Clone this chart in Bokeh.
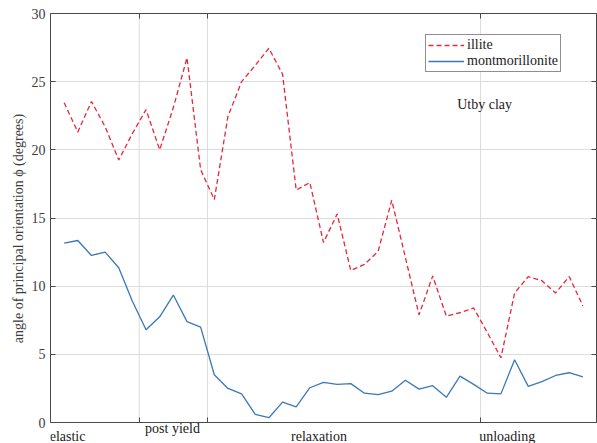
from bokeh.plotting import figure
from bokeh.models import Range1d, FixedTicker, LinearAxis, Label, Legend, LegendItem
from bokeh.core.properties import value
from bokeh.embed import file_html
from bokeh.resources import INLINE

# ---- data ----
step = list(range(1, 40))
illite = [23.45, 21.3, 23.55, 21.7, 19.25, 21.2, 22.95, 20.0, 23.1, 26.75,
          18.55, 16.35, 22.45, 25.0, 26.2, 27.45, 25.55, 17.05, 17.6, 13.2,
          15.3, 11.15, 11.6, 12.55, 16.3, 12.1, 7.9, 10.75, 7.8, 8.05,
          8.4, 6.6, 4.75, 9.5, 10.7, 10.4, 9.5, 10.7, 8.55]
montmorillonite = [13.15, 13.35, 12.25, 12.5, 11.35, 8.9, 6.8, 7.75, 9.35, 7.4,
                   7.0, 3.5, 2.5, 2.1, 0.6, 0.35, 1.5, 1.15, 2.55, 2.95,
                   2.8, 2.85, 2.15, 2.05, 2.3, 3.1, 2.45, 2.7, 1.85, 3.4,
                   2.8, 2.15, 2.1, 4.6, 2.65, 3.0, 3.45, 3.65, 3.35]
phase_boundaries = [6.5, 11.5, 31.5]
y_ticks = [0, 5, 10, 15, 20, 25, 30]
phase_labels = ["elastic", "post yield", "relaxation", "unloading"]
phase_label_x = [1.25, 8.94, 19.67, 33.46]
phase_label_y = [-1.03, -0.44, -1.03, -1.03]

FONT = "Liberation Serif"
AXIS_COL = "#4a4a4a"
TEXT_COL = "#3c3c3c"
Y0, Y1 = 0, 30

p = figure(width=597, height=443, x_range=Range1d(0, 40), y_range=Range1d(-1.54, 30),
           output_backend="svg", toolbar_location=None,
           min_border_left=50, min_border_right=1, min_border_top=13, min_border_bottom=0)
p.background_fill_color = "white"
p.border_fill_color = "white"
p.outline_line_color = None

p.add_layout(LinearAxis(), "right")
p.add_layout(LinearAxis(), "above")

for ax in p.xaxis:
    ax.ticker = FixedTicker(ticks=phase_boundaries)
    ax.major_label_overrides = {t: "" for t in phase_boundaries}
    ax.major_label_text_font_size = "1px"
    ax.major_label_standoff = 0
p.below[0].fixed_location = Y0
for ax in p.yaxis:
    ax.ticker = FixedTicker(ticks=y_ticks)
    ax.bounds = (Y0, Y1)
for ax in list(p.xaxis) + list(p.yaxis):
    ax.axis_line_color = AXIS_COL
    ax.major_tick_line_color = AXIS_COL
    ax.major_tick_in = 5
    ax.major_tick_out = 0
    ax.minor_tick_line_color = None
    ax.major_label_text_font = FONT
    ax.major_label_text_color = TEXT_COL

rax = p.right[0]
rax.major_label_overrides = {t: "" for t in y_ticks}
rax.major_label_text_font_size = "1px"
rax.major_label_standoff = 0

ly = p.left[0]
ly.major_label_text_font_size = "14px"
ly.major_label_standoff = 5
ly.axis_label = "angle of principal orientation \u03d5 (degrees)"
ly.axis_label_text_font = FONT
ly.axis_label_text_font_style = "normal"
ly.axis_label_text_font_size = "14px"
ly.axis_label_text_color = TEXT_COL
ly.axis_label_standoff = 3

p.xgrid.visible = False
p.ygrid.ticker = FixedTicker(ticks=y_ticks)
p.ygrid.grid_line_color = "#dcdcdc"
# vertical phase-boundary grid lines, only between y = 0 and 30
p.segment(x0=phase_boundaries, x1=phase_boundaries,
          y0=[Y0] * len(phase_boundaries), y1=[Y1] * len(phase_boundaries),
          line_color="#dcdcdc", line_width=1, level="underlay")

r_ill = p.line(step, illite, line_color="#e5283c", line_width=1.3, line_dash="5 3")
r_mon = p.line(step, montmorillonite, line_color="#3a78b8", line_width=1.3)

legend = Legend(items=[LegendItem(label="illite", renderers=[r_ill]),
                       LegendItem(label="montmorillonite", renderers=[r_mon])],
                location=(375, 371), padding=2, margin=0, spacing=0,
                glyph_width=36, glyph_height=16, label_height=16, label_standoff=3,
                label_text_font=FONT, label_text_font_size="14px",
                label_text_color="#1a1a1a",
                border_line_color="#202020", border_line_width=1,
                background_fill_color="white", background_fill_alpha=1.0)
p.add_layout(legend, "center")

p.add_layout(Label(x=31.8, y=23.36, text="Utby clay", text_align="center",
                   text_baseline="middle", text_font=FONT, text_font_size="14px",
                   text_color="#1a1a1a"))

p.text(x=phase_label_x, y=phase_label_y, text=phase_labels,
       text_align="center", text_baseline="middle",
       text_font=value(FONT), text_font_size="14px", text_color="#1a1a1a")

open("out.html", "w").write(file_html(p, INLINE))
